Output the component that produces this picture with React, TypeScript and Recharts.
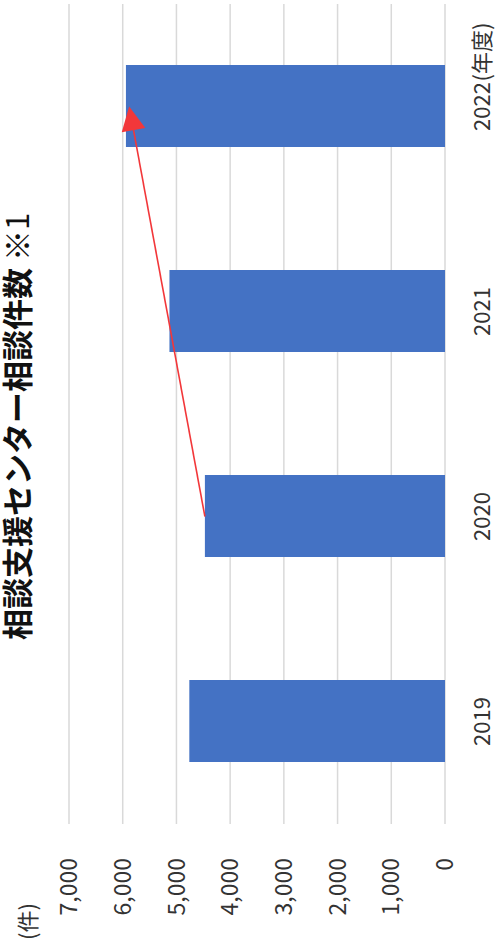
import { BarChart, Bar, XAxis, YAxis, CartesianGrid, ReferenceLine } from "recharts";

/**
 * 相談支援センター相談件数（年度別）。
 * 元の図は90度回転しているので、横向きの棒グラフを描いて CSS で回す。
 */

const years = ["2019", "2020", "2021", "2022"];
const counts = [4760, 4470, 5130, 5940];
const valueTicks = [0, 1000, 2000, 3000, 4000, 5000, 6000, 7000];
const yearUnit = "(年度)";
const countUnit = "(件)";
const titleMain = "相談支援センター相談件数";
const titleNote = "※1";
// 矢印: 2020 の棒の先端 → 2022 の棒の先端
const arrowFrom = { x: "2020", y: 4470 };
const arrowTo = { x: "2022", y: 5880 };

const data = years.map((year, i) => ({ year, count: counts[i] }));

const FONT = "'Noto Sans CJK JP', 'Noto Sans', sans-serif";
const TEXT = "#333333";
const RED = "#f2373a";

function YearTick(props: any) {
  const { x, y, payload, index } = props;
  const last = index === years.length - 1;
  return (
    <g>
      <text x={x} y={y + 35} textAnchor="middle" dominantBaseline="central" fontSize={22} fill={TEXT} fontFamily={FONT}>
        {payload.value}
      </text>
      {last && (
        <text x={x + 25} y={y + 35} textAnchor="start" dominantBaseline="central" fontSize={22} fill={TEXT} fontFamily={FONT}>
          {yearUnit}
        </text>
      )}
    </g>
  );
}

function ArrowShape(props: any) {
  const { x1, y1, x2, y2 } = props;
  const dx = x2 - x1;
  const dy = y2 - y1;
  const len = Math.hypot(dx, dy) || 1;
  const ux = dx / len;
  const uy = dy / len;
  const head = 24;
  const half = 12;
  const bx = x2 - ux * head;
  const by = y2 - uy * head;
  const pts = `${x2},${y2} ${bx - uy * half},${by + ux * half} ${bx + uy * half},${by - ux * half}`;
  return (
    <g>
      <line x1={x1} y1={y1} x2={bx} y2={by} stroke={RED} strokeWidth={1.6} />
      <polygon points={pts} fill={RED} />
    </g>
  );
}

export default function App() {
  return (
    <div style={{ position: "absolute", left: 0, top: 0, width: 495, height: 946, overflow: "hidden", background: "#fff" }}>
      <div
        style={{
          position: "absolute",
          left: 0,
          top: 0,
          width: 946,
          height: 495,
          transformOrigin: "0 0",
          transform: "translateY(946px) rotate(-90deg)",
        }}
      >
        <div
          style={{
            position: "absolute",
            left: 306,
            top: 0,
            fontFamily: FONT,
            fontSize: 31,
            lineHeight: "31px",
            fontWeight: 700,
            color: "#111",
            whiteSpace: "nowrap",
          }}
        >
          {titleMain} <span style={{ fontWeight: 400 }}>{titleNote}</span>
        </div>
        <BarChart width={946} height={495} data={data} margin={{ top: 69, right: 4, bottom: 0, left: 0 }}>
          <CartesianGrid vertical={false} stroke="#d9d9d9" strokeWidth={1.5} />
          <XAxis
            dataKey="year"
            height={50}
            axisLine={false}
            tickLine={false}
            tickSize={0}
            tickMargin={0}
            tick={<YearTick />}
            interval={0}
          />
          <YAxis
            width={122}
            domain={[0, 7000]}
            ticks={valueTicks}
            axisLine={false}
            tickLine={false}
            tickSize={0}
            tickMargin={34}
            tickFormatter={(v: number) => v.toLocaleString("en-US")}
            tick={{ fontSize: 23, fill: TEXT, fontFamily: FONT }}
            label={(p: any) => (
              <text x={6} y={(p.viewBox?.y ?? 69) - 43} textAnchor="start" dominantBaseline="central" fontSize={22} fill={TEXT} fontFamily={FONT}>
                {countUnit}
              </text>
            )}
          />
          <Bar dataKey="count" fill="#4472c4" barSize={82} isAnimationActive={false} />
          <ReferenceLine segment={[arrowFrom, arrowTo]} shape={<ArrowShape />} ifOverflow="visible" />
        </BarChart>
      </div>
    </div>
  );
}
